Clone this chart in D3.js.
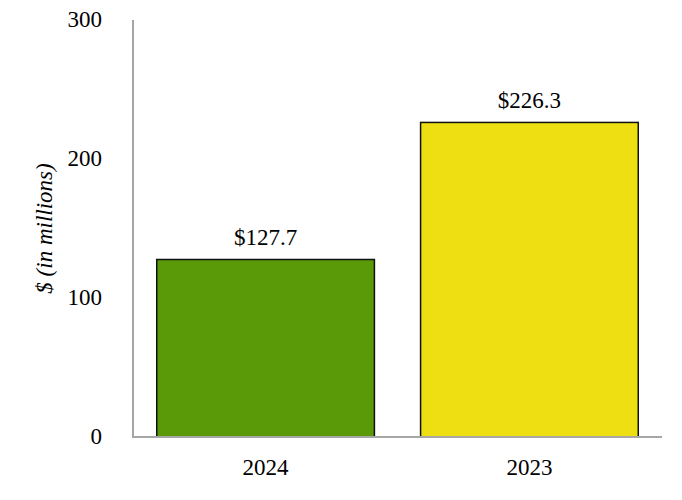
<!DOCTYPE html>
<html><head><meta charset="utf-8">
<script src="https://cdn.jsdelivr.net/npm/d3@7"></script>
<style>body{margin:0;background:#fff}svg{display:block}text{font-family:"Liberation Serif","Times New Roman",serif;fill:#000}</style>
</head><body><svg id="c" width="682" height="500"></svg>
<script>
const categories = ["2024", "2023"];
const values = [127.7, 226.3];
const labels = ["$127.7", "$226.3"];
const yTicks = [0, 100, 200, 300];
const colors = ["#5a9a08", "#eedf12"];

const svg = d3.select("#c");
const m = {l:133, r:20, t:20, b:63};
const W = 682, H = 500;
const FS = 23;
const x = d3.scaleBand().domain(categories).range([m.l, W - m.r]).paddingInner(0.175).paddingOuter(0.09);
const y = d3.scaleLinear().domain([0, 300]).range([H - m.b, m.t]);

svg.selectAll("rect.bar").data(values).enter().append("rect")
  .attr("x", (d,i) => x(categories[i]))
  .attr("y", d => y(d))
  .attr("width", x.bandwidth())
  .attr("height", d => y(0) - y(d))
  .attr("fill", (d,i) => colors[i])
  .attr("stroke", "#111").attr("stroke-width", 1.5);

svg.append("line").attr("x1", m.l).attr("x2", m.l).attr("y1", y(300)).attr("y2", y(0))
  .attr("stroke", "#a6a6a6").attr("stroke-width", 2);
svg.append("line").attr("x1", m.l - 1).attr("x2", W - m.r).attr("y1", y(0)).attr("y2", y(0))
  .attr("stroke", "#a6a6a6").attr("stroke-width", 2);

svg.selectAll("text.yt").data(yTicks).enter().append("text")
  .attr("x", 102).attr("y", d => y(d)).attr("dy", "0.3em")
  .attr("text-anchor", "end").attr("font-size", FS).text(d => d);

svg.selectAll("text.xt").data(categories).enter().append("text")
  .attr("x", d => x(d) + x.bandwidth()/2).attr("y", 475)
  .attr("text-anchor", "middle").attr("font-size", FS).text(d => d);

svg.selectAll("text.vl").data(values).enter().append("text")
  .attr("x", (d,i) => x(categories[i]) + x.bandwidth()/2).attr("y", d => y(d) - 14)
  .attr("text-anchor", "middle").attr("font-size", FS).text((d,i) => labels[i]);

svg.append("text").attr("transform", "translate(52," + ((y(0)+y(300))/2) + ") rotate(-90)")
  .attr("text-anchor", "middle").attr("font-size", FS).attr("font-style", "italic")
  .text("$ (in millions)");
</script></body></html>
